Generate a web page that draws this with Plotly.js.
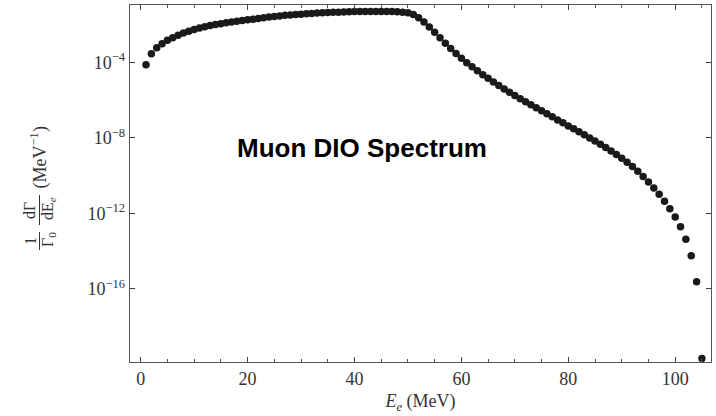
<!DOCTYPE html>
<html>
<head>
<meta charset="utf-8">
<script src="https://cdn.plot.ly/plotly-3.0.1.min.js"></script>
<style>html,body{margin:0;padding:0;background:#fff;}#chart{width:716px;height:416px;}</style>
</head>
<body>
<div id="chart"></div>
<script>
// Electron energy E_e (MeV)
const energyMeV = [1,2,3,4,5,6,7,8,9,10,11,12,13,14,15,16,17,18,19,20,
  21,22,23,24,25,26,27,28,29,30,31,32,33,34,35,36,37,38,39,40,
  41,42,43,44,45,46,47,48,49,50,51,52,53,54,55,56,57,58,59,60,
  61,62,63,64,65,66,67,68,69,70,71,72,73,74,75,76,77,78,79,80,
  81,82,83,84,85,86,87,88,89,90,91,92,93,94,95,96,97,98,99,100,
  101,102,103,104,105];
// log10 of (1/Gamma0) dGamma/dE_e (MeV^-1)
const log10Rate = [-4.12,-3.54,-3.22,-3.00,-2.82,-2.68,-2.55,-2.44,-2.34,-2.25,
  -2.17,-2.10,-2.04,-1.99,-1.94,-1.89,-1.85,-1.81,-1.77,-1.73,
  -1.70,-1.66,-1.62,-1.59,-1.56,-1.53,-1.50,-1.48,-1.46,-1.44,
  -1.42,-1.40,-1.38,-1.36,-1.35,-1.34,-1.33,-1.32,-1.31,-1.30,
  -1.30,-1.29,-1.29,-1.29,-1.29,-1.30,-1.30,-1.31,-1.33,-1.36,
  -1.45,-1.62,-1.85,-2.12,-2.40,-2.69,-2.98,-3.25,-3.52,-3.77,
  -4.01,-4.23,-4.44,-4.65,-4.84,-5.03,-5.22,-5.40,-5.57,-5.75,
  -5.92,-6.08,-6.24,-6.40,-6.56,-6.72,-6.88,-7.05,-7.20,-7.36,
  -7.51,-7.67,-7.83,-8.00,-8.16,-8.33,-8.51,-8.69,-8.88,-9.08,
  -9.29,-9.52,-9.77,-10.04,-10.33,-10.65,-10.99,-11.36,-11.76,-12.19,
  -12.71,-13.37,-14.24,-15.62,-19.69];
const yTickVals = [1e-4, 1e-8, 1e-12, 1e-16];
const yTickText = ["10<sup>−4</sup>", "10<sup>−8</sup>", "10<sup>−12</sup>", "10<sup>−16</sup>"];
const xTickVals = [0, 20, 40, 60, 80, 100];

const rate = log10Rate.map(v => Math.pow(10, v));

const serif = "Liberation Serif, Times New Roman, serif";
const textColor = "#333";

const trace = {
  x: energyMeV,
  y: rate,
  type: "scatter",
  mode: "markers",
  marker: {size: 7.5, color: "#1a1a1a"},
  hoverinfo: "skip"
};

// pixel -> paper helpers for the hand-built fraction title
const L = 130, R = 5, T = 5, B = 54, W = 716, H = 416;
const pw = W - L - R, ph = H - T - B;
const px = p => (p - L) / pw;
const py = p => (H - B - p) / ph;

function ann(text, xp, yp, size) {
  return {text: text, xref: "paper", yref: "paper", x: px(xp), y: py(yp),
    showarrow: false, textangle: -90, xanchor: "center", yanchor: "middle",
    font: {family: serif, size: size, color: textColor}};
}

const layout = {
  width: W, height: H,
  margin: {l: L, r: R, t: T, b: B, pad: 0},
  paper_bgcolor: "#fff", plot_bgcolor: "#fff",
  showlegend: false,
  title: {
    text: "<b>Muon DIO Spectrum</b>",
    x: 362 / W, xanchor: "center", xref: "container",
    y: 1 - 148 / H, yanchor: "middle", yref: "container",
    font: {family: "Liberation Sans, Arial, sans-serif", size: 26, color: "#000"}
  },
  xaxis: {
    range: [-2, 106.7],
    tickvals: xTickVals,
    ticks: "inside", ticklen: 5, tickwidth: 1, tickcolor: "#444",
    minor: {dtick: 5, tick0: 0, ticks: "inside", ticklen: 3, tickcolor: "#555"},
    showgrid: false, zeroline: false,
    showline: true, linecolor: "#555", linewidth: 1.3, mirror: "ticks",
    tickfont: {family: serif, size: 18, color: textColor},
    title: {text: "<i>E<sub>e</sub></i> (MeV)", standoff: 6,
      font: {family: serif, size: 18, color: textColor}}
  },
  yaxis: {
    type: "log",
    range: [-19.88, -0.95],
    tickvals: yTickVals,
    ticktext: yTickText,
    ticks: "inside", ticklen: 5, tickwidth: 1, tickcolor: "#444",
    showgrid: false, zeroline: false,
    showline: true, linecolor: "#555", linewidth: 1.3, mirror: "ticks",
    tickfont: {family: serif, size: 18, color: textColor}
  },
  annotations: [
    ann("1", 30, 241, 16),
    ann("dΓ", 30, 211, 16),
    ann("Γ<sub>0</sub>", 48, 240, 16),
    ann("dE<sub><i>e</i></sub>", 48, 209, 16),
    ann("(MeV<sup>−1</sup>)", 39.5, 158, 18)
  ],
  shapes: [
    {type: "line", xref: "paper", yref: "paper", x0: px(39.5), x1: px(39.5), y0: py(232), y1: py(250),
      line: {color: textColor, width: 1}},
    {type: "line", xref: "paper", yref: "paper", x0: px(39.5), x1: px(39.5), y0: py(195), y1: py(225),
      line: {color: textColor, width: 1}}
  ]
};

Plotly.newPlot("chart", [trace], layout, {staticPlot: true, displayModeBar: false});
</script>
</body>
</html>
